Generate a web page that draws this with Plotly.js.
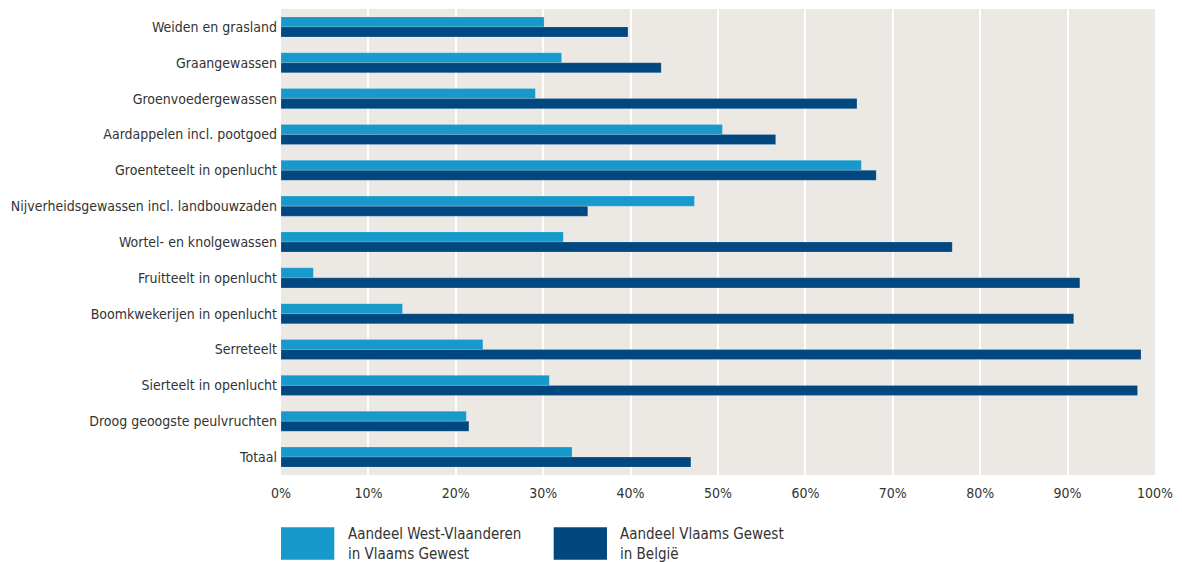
<!DOCTYPE html>
<html>
<head>
<meta charset="utf-8">
<script src="https://cdn.plot.ly/plotly-3.0.1.min.js"></script>
<style>
  html, body { margin: 0; padding: 0; background: #ffffff; }
  #chart { width: 1182px; height: 562px; }
</style>
</head>
<body>
<div id="chart"></div>
<script>
var categories = [
  "Weiden en grasland",
  "Graangewassen",
  "Groenvoedergewassen",
  "Aardappelen incl. pootgoed",
  "Groenteteelt in openlucht",
  "Nijverheidsgewassen incl. landbouwzaden",
  "Wortel- en knolgewassen",
  "Fruitteelt in openlucht",
  "Boomkwekerijen in openlucht",
  "Serreteelt",
  "Sierteelt in openlucht",
  "Droog geoogste peulvruchten",
  "Totaal"
];
var westVlaanderen = [30.1, 32.1, 29.1, 50.5, 66.4, 47.3, 32.3, 3.7, 13.9, 23.1, 30.7, 21.2, 33.3];
var vlaamsGewest   = [39.7, 43.5, 65.9, 56.6, 68.1, 35.1, 76.8, 91.4, 90.7, 98.4, 98.0, 21.5, 46.9];
var seriesNames = ["Aandeel West-Vlaanderen<br>in Vlaams Gewest", "Aandeel Vlaams Gewest<br>in België"];
var tickValues = [0, 10, 20, 30, 40, 50, 60, 70, 80, 90, 100];
var tickLabels = ["0%", "10%", "20%", "30%", "40%", "50%", "60%", "70%", "80%", "90%", "100%"];

var colLight = "#179ACB";
var colDark = "#00487F";
var fontFam = "'DejaVu Sans Condensed', 'DejaVu Sans', sans-serif";

var traces = [
  {
    type: "bar", orientation: "h", name: seriesNames[0],
    x: westVlaanderen, y: categories,
    marker: { color: colLight, line: { color: "rgba(255,255,255,0.35)", width: 0.5 } },
    hoverinfo: "x+y", showlegend: false
  },
  {
    type: "bar", orientation: "h", name: seriesNames[1],
    x: vlaamsGewest, y: categories,
    marker: { color: colDark, line: { color: "rgba(255,255,255,0.35)", width: 0.5 } },
    hoverinfo: "x+y", showlegend: false
  }
];

// legend swatches and texts (paper coordinates)
var legendX = [0.0, 0.312];
var legendCols = [colLight, colDark];
var shapes = [];
var annotations = [];
for (var i = 0; i < 2; i++) {
  shapes.push({
    type: "rect", xref: "paper", yref: "paper",
    x0: legendX[i], x1: legendX[i] + 0.061,
    y0: -0.182, y1: -0.112,
    fillcolor: legendCols[i], line: { width: 0 }
  });
  annotations.push({
    xref: "paper", yref: "paper",
    x: legendX[i] + 0.074, y: -0.103,
    xanchor: "left", yanchor: "top", align: "left",
    text: seriesNames[i], showarrow: false,
    font: { family: fontFam, size: 15, color: "#333333" }
  });
}

var layout = {
  width: 1182, height: 562,
  margin: { l: 281, r: 27, t: 9, b: 87 },
  paper_bgcolor: "#ffffff",
  plot_bgcolor: "#ECE9E5",
  barmode: "group",
  bargap: 0.44,
  bargroupgap: 0,
  font: { family: fontFam, size: 14, color: "#333333" },
  xaxis: {
    range: [0, 100],
    tickvals: tickValues, ticktext: tickLabels,
    showgrid: true, gridcolor: "#ffffff", gridwidth: 2,
    zeroline: false, showline: false, ticks: "",
    ticklabelstandoff: 8,
    tickfont: { family: fontFam, size: 14, color: "#333333" },
    fixedrange: true
  },
  yaxis: {
    autorange: "reversed",
    showgrid: false, zeroline: false, showline: false, ticks: "",
    ticklabelstandoff: 3,
    tickfont: { family: fontFam, size: 14, color: "#333333" },
    fixedrange: true
  },
  shapes: shapes,
  annotations: annotations,
  showlegend: false
};

Plotly.newPlot("chart", traces, layout, { displayModeBar: false, staticPlot: true });
</script>
</body>
</html>
